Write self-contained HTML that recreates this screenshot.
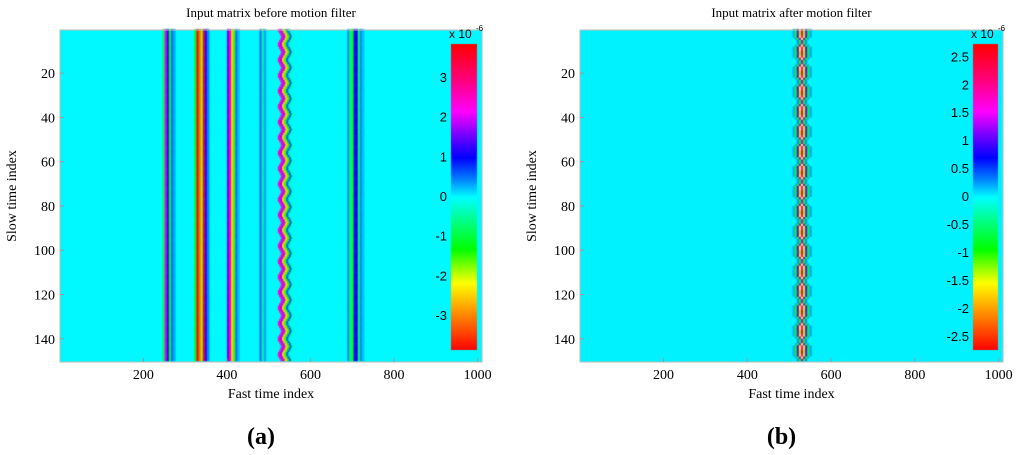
<!DOCTYPE html>
<html><head><meta charset="utf-8"><style>
body{margin:0;background:#fff;width:1024px;height:455px;overflow:hidden;position:relative}
canvas,svg{position:absolute;left:0;top:0}
</style></head><body>
<canvas id="cv" width="1024" height="455"></canvas>
<svg id="sv" width="1024" height="455" font-family="Liberation Serif, serif"></svg>
<script>
// ---- data (values in units of 1e-6) ----
const xTicks=[200,400,600,800,1000];
const yTicks=[20,40,60,80,100,120,140];
const cbTicksA=[3,2,1,0,-1,-2,-3];
const cbTicksB=[2.5,2,1.5,1,0.5,0,-0.5,-1,-1.5,-2,-2.5];
const stripeStartsA=[246,322,400,478,688];
const stripeValsA=[[-1,2,1.2,-1.2,0.5,0.3],[-1.3,3.6,-3.2,-1.8,3.5,1.2,0.4],[1.5,2.5,-2.5,-1.5,0.5,0.2],[0.5,-0.5,0.3],[0.4,-0.8,-1.2,1.2,1.0,-0.8,0.4,0.2]];
const wavyStartA=522;
const wavyValsA=[2.5,1.8,-2.5,-1.5,0.6,-0.3];
const wavyShift=[0,3,6,8,6,3,0];
const wavyStartB=508;
const wavyRowsB=[[0.2,-0.8,1,-1.6,1.7,-1.4,1,-0.8,0.2],[0.2,-0.8,1.1,-1.3,2.2,-1.3,1.1,-0.8,0.2],[0,0.2,-0.8,1.2,-1.5,1.2,-0.8,0.2,0],[0,0,0.3,-0.9,1.3,-0.9,0.3,0,0]];
const wavyPhaseB=[0,1,1,0,2,3,3,2,0];
const bgA=0, bgB=0.02;
const rangeA=[3.83,-3.88], rangeB=[2.72,-2.75];
// ---- layout ----
const panels=[{x0:60,x1:482,id:'a',title:'Input matrix before motion filter',cb:[451,477],range:rangeA,ticks:cbTicksA},
{x0:580,x1:1003,id:'b',title:'Input matrix after motion filter',cb:[973,998],range:rangeB,ticks:cbTicksB}];
const Y0=30,Y1=362,CBT=44,CBB=350;
const stops=[[0,[255,0,0]],[0.12,[255,0,128]],[0.22,[255,0,255]],[0.29,[128,0,255]],[0.37,[0,0,255]],[0.44,[0,128,255]],[0.5,[0,255,255]],[0.58,[0,255,128]],[0.67,[0,255,0]],[0.78,[255,255,0]],[0.89,[255,128,0]],[1,[255,0,0]]];
function cmap(t){t=Math.max(0,Math.min(1,t));for(let i=1;i<stops.length;i++){if(t<=stops[i][0]){const a=stops[i-1],b=stops[i],f=(t-a[0])/(b[0]-a[0]);return 'rgb('+a[1].map((c,k)=>Math.round(c+(b[1][k]-c)*f)).join(',')+')';}}return 'rgb(255,0,0)';}
function col(v,r){return cmap((r[0]-v)/(r[0]-r[1]));}
const cv=document.getElementById('cv'),ctx=cv.getContext('2d');
function xs(p,v){return p.x0+(v-0.5)*(p.x1-p.x0)/1010;}
function ys(v){return Y0+(v-0.5)*(Y1-Y0)/150;}
function drawCols(p,start,vals,row,r){vals.forEach((v,i)=>{const a=xs(p,start+i*5),b=xs(p,start+i*5+5);ctx.fillStyle=col(v,r);ctx.fillRect(a,ys(row),b-a+0.4,ys(row+1)-ys(row)+0.4);});}
// panel a
let p=panels[0];
ctx.fillStyle=col(bgA,rangeA);ctx.fillRect(p.x0,Y0,p.x1-p.x0,Y1-Y0);
for(let r=0;r<150;r++){stripeStartsA.forEach((s,i)=>drawCols(p,s,stripeValsA[i],r,rangeA));drawCols(p,wavyStartA+wavyShift[r%wavyShift.length],wavyValsA,r,rangeA);}
// panel b
p=panels[1];
ctx.fillStyle=col(bgB,rangeB);ctx.fillRect(p.x0,Y0,p.x1-p.x0,Y1-Y0);
for(let r=0;r<150;r++){drawCols(p,wavyStartB,wavyRowsB[wavyPhaseB[r%wavyPhaseB.length]],r,rangeB);}
// colorbars
panels.forEach(q=>{for(let y=CBT;y<CBB;y++){ctx.fillStyle=cmap((y-CBT)/(CBB-CBT));ctx.fillRect(q.cb[0],y,q.cb[1]-q.cb[0],1);}});
// svg annotations
const sv=document.getElementById('sv');const NS='http://www.w3.org/2000/svg';
function el(tag,attrs,txt){const e=document.createElementNS(NS,tag);for(const k in attrs)e.setAttribute(k,attrs[k]);if(txt!==undefined)e.textContent=txt;sv.appendChild(e);return e;}
panels.forEach(q=>{
 let e=el('rect',{x:q.x0,y:Y0,width:q.x1-q.x0,height:Y1-Y0,fill:'none',stroke:'#bbb','stroke-width':1});
 
 
 e=el('text',{x:(q.x0+q.x1)/2,y:17,'text-anchor':'middle','font-size':13},q.title);
 
 
 xTicks.forEach(t=>{const x=xs(q,t);
  e=el('line',{x1:x,x2:x,y1:Y1,y2:Y1-4,stroke:'#999'});
  
  
  e=el('text',{x:x,y:Y1+17,'text-anchor':'middle','font-size':14},t);
  
  });
 yTicks.forEach(t=>{const y=ys(t);
  e=el('line',{x1:q.x0,x2:q.x0+4,y1:y,y2:y,stroke:'#999'});
  
  
  e=el('text',{x:q.x0-5,y:y+5,'text-anchor':'end','font-size':14},t);
  
  });
 e=el('text',{x:(q.x0+q.x1)/2,y:398,'text-anchor':'middle','font-size':14},'Fast time index');
 
 
 e=el('text',{x:0,y:0,'text-anchor':'middle','font-size':14,transform:'translate('+(q.x0-44)+',196) rotate(-90)'},'Slow time index');
 
 
 e=el('text',{x:(q.x0+q.x1)/2-10,y:444,'text-anchor':'middle','font-size':24,'font-weight':'bold'},'('+q.id+')');
 
 
 const cr=q.range;
 q.ticks.forEach(t=>{const y=CBT+(cr[0]-t)/(cr[0]-cr[1])*(CBB-CBT);
  e=el('text',{x:q.cb[0]-4,y:y+5,'text-anchor':'end','font-size':13,'font-family':'Liberation Sans, sans-serif'},t);
  
  });
 e=el('text',{x:q.cb[0]-2,y:38,'font-size':12,'font-family':'Liberation Sans, sans-serif'},'x 10');
 
 
 e=el('text',{x:q.cb[0]+25,y:31,'font-size':8,'font-family':'Liberation Sans, sans-serif'},'-6');
 
 
});
</script>
</body></html>
